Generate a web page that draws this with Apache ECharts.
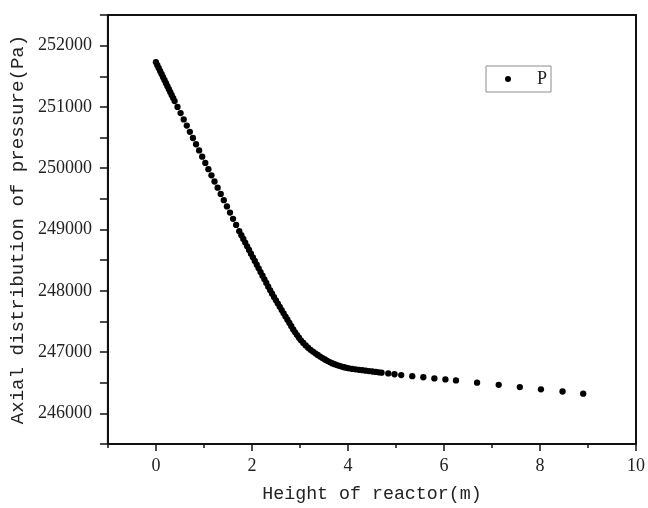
<!DOCTYPE html>
<html>
<head>
<meta charset="utf-8">
<script src="https://cdn.jsdelivr.net/npm/echarts@6/dist/echarts.min.js"></script>
<style>
html,body{margin:0;padding:0;background:#fff;}
#chart{width:648px;height:508px;}
</style>
</head>
<body>
<div id="chart"></div>
<script>
// Height of reactor (m)
var heights = [
  0.00,0.03,0.06,0.09,0.12,0.15,0.18,0.21,0.24,0.27,0.30,0.33,0.36,0.39,
  0.450,0.514,0.579,0.643,0.707,0.771,0.836,0.900,0.964,1.029,1.093,1.157,1.221,1.286,1.350,1.414,1.479,1.543,1.607,1.671,1.736,
  1.78,1.82,1.86,1.90,1.94,1.98,2.02,2.06,2.10,2.14,2.18,2.22,2.26,2.30,2.34,2.38,
  2.42,2.46,2.50,2.54,2.58,2.62,2.66,2.70,2.74,2.78,2.82,2.86,2.90,2.94,2.98,3.02,
  3.07,3.12,3.17,3.22,3.27,3.32,3.37,3.42,3.47,3.52,3.57,3.62,3.67,3.72,3.77,3.82,3.87,3.92,3.97,4.02,
  4.09,4.16,4.23,4.30,4.37,4.44,4.51,4.58,4.64,
  4.70,4.84,4.97,5.11,5.34,5.57,5.80,6.03,6.25,6.69,7.14,7.58,8.02,8.47,8.90
];
// Axial pressure P (Pa)
var pressures = [
  251730,251681,251632,251583,251535,251486,251437,251388,251339,251290,251241,251192,251144,251095,
  251000,250899,250796,250695,250594,250493,250391,250290,250189,250086,249985,249884,249783,249682,249580,249479,249377,249276,249175,249074,248972,
  248906,248846,248786,248726,248666,248606,248546,248486,248426,248366,248306,248246,248187,248127,248067,248007,
  247952,247898,247845,247792,247739,247686,247633,247580,247527,247474,247421,247369,247322,247277,247234,247192,
  247148,247108,247071,247037,247008,246980,246952,246926,246902,246879,246857,246836,246818,246802,246788,246775,246763,246752,246743,246734,
  246725,246718,246711,246704,246697,246690,246683,246676,246670,
  246663,246651,246638,246625,246607,246589,246570,246553,246537,246501,246465,246429,246392,246357,246321
];
var xTickLabels = [0, 2, 4, 6, 8, 10];
var yTickLabels = [246000, 247000, 248000, 249000, 250000, 251000, 252000];
var seriesName = 'P';
var xTitle = 'Height of reactor(m)';
var yTitle = 'Axial distribution of pressure(Pa)';

var points = heights.map(function (h, i) { return [h, pressures[i]]; });

var axisColor = '#111111';
var labelFont = 'Liberation Serif';
var titleFont = 'Liberation Mono';

var chart = echarts.init(document.getElementById('chart'), null, {renderer: 'canvas'});
chart.setOption({
  animation: false,
  backgroundColor: '#ffffff',
  grid: {
    left: 107, top: 15, right: 9, bottom: 63,
    show: true, borderColor: axisColor, borderWidth: 2, backgroundColor: 'transparent'
  },
  legend: {
    left: 486, top: 66,
    padding: [4, 4, 4, 19],
    icon: 'circle',
    itemWidth: 6, itemHeight: 6,
    borderColor: '#8c8c8c', borderWidth: 1, borderRadius: 0,
    itemStyle: {color: '#000000', opacity: 1},
    textStyle: {fontFamily: labelFont, fontSize: 18, color: '#222', lineHeight: 18, padding: [0, 0, 0, 21]},
    data: [seriesName]
  },
  xAxis: [{
    type: 'value', min: -1, max: 10, interval: 1,
    name: xTitle, nameLocation: 'middle', nameGap: 41,
    nameTextStyle: {fontFamily: titleFont, fontSize: 18.3, color: '#222'},
    axisLine: {show: true, onZero: false, lineStyle: {color: axisColor, width: 2}},
    axisTick: {show: true, inside: false, length: 4, lineStyle: {color: axisColor, width: 1.5}},
    axisLabel: {
      margin: 13, fontFamily: labelFont, fontSize: 18, color: '#222',
      formatter: function (v) { return xTickLabels.indexOf(v) >= 0 ? String(v) : ''; }
    },
    splitLine: {show: false}
  }, {
    type: 'value', min: -1, max: 10, position: 'bottom',
    axisLine: {show: false},
    axisTick: {show: true, inside: false, length: 7, customValues: xTickLabels, lineStyle: {color: axisColor, width: 1.5}},
    axisLabel: {show: false},
    splitLine: {show: false}
  }],
  yAxis: {
    type: 'value', min: 245500, max: 252500, interval: 500,
    name: yTitle, nameLocation: 'middle', nameGap: 73,
    nameTextStyle: {fontFamily: titleFont, fontSize: 19.1, color: '#222'},
    axisLine: {show: true, onZero: false, lineStyle: {color: axisColor, width: 2}},
    axisTick: {show: true, inside: false, length: 8, lineStyle: {color: axisColor, width: 1.5}},
    axisLabel: {
      margin: 16, fontFamily: labelFont, fontSize: 18, color: '#222',
      formatter: function (v) { return yTickLabels.indexOf(v) >= 0 ? String(v) : ''; }
    },
    splitLine: {show: false}
  },
  series: [{
    name: seriesName,
    type: 'scatter',
    xAxisIndex: 0,
    symbol: 'circle',
    symbolSize: 6.3,
    itemStyle: {color: '#000000', opacity: 1},
    data: points
  }]
});
</script>
</body>
</html>
